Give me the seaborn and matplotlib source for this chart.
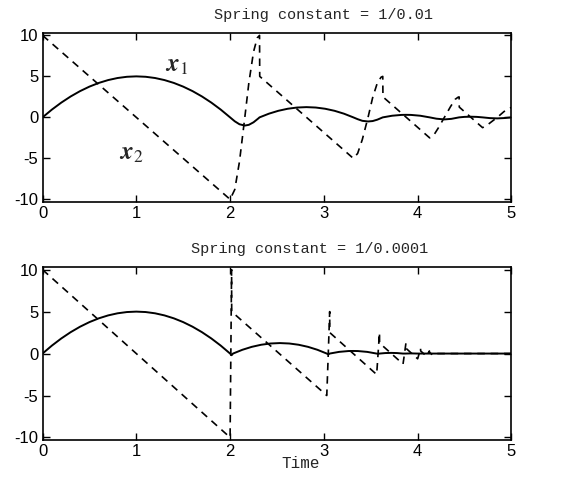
import matplotlib
matplotlib.use("Agg")
import matplotlib.pyplot as plt
import seaborn as sns
import pandas as pd

# ---------------- data ----------------
# Top panel: spring constant = 1/0.01
top_t_x1 = [0.0, 0.1, 0.2, 0.3, 0.4, 0.5, 0.6, 0.7, 0.8, 0.9, 1.0, 1.1, 1.2, 1.3, 1.4, 1.5,
            1.6, 1.7, 1.8, 1.9, 2.0,
            2.05, 2.1, 2.157, 2.2, 2.25, 2.3, 2.314,
            2.414, 2.514, 2.614, 2.714, 2.814, 2.914, 3.014, 3.114, 3.214, 3.314,
            3.36, 3.41, 3.471, 3.52, 3.57, 3.628,
            3.728, 3.828, 3.878, 3.928, 4.028, 4.128,
            4.2, 4.285, 4.36, 4.442,
            4.5, 4.567, 4.63, 4.692,
            4.77, 4.849, 4.93, 5.0]
top_x1 = [0, 0.95, 1.8, 2.55, 3.2, 3.75, 4.2, 4.55, 4.8, 4.95, 5, 4.95, 4.8, 4.55, 4.2, 3.75,
          3.2, 2.55, 1.8, 0.95, 0,
          -0.48, -0.84, -1.0, -0.91, -0.6, -0.14, 0,
          0.45, 0.8, 1.05, 1.2, 1.25, 1.2, 1.05, 0.8, 0.45, 0,
          -0.22, -0.42, -0.5, -0.45, -0.28, 0,
          0.2, 0.3, 0.31, 0.3, 0.2, 0,
          -0.16, -0.25, -0.18, 0,
          0.06, 0.08, 0.06, 0,
          -0.09, -0.125, -0.08, 0]

top_t_x2 = [0, 2.0, 2.05, 2.1, 2.157, 2.2, 2.25, 2.29, 2.314, 2.316,
            3.314, 3.36, 3.41, 3.471, 3.52, 3.57, 3.61, 3.628, 3.63,
            4.128, 4.17, 4.22, 4.285, 4.35, 4.40, 4.43, 4.442, 4.444,
            4.692, 4.73, 4.78, 4.849, 4.92, 4.97, 5.0]
top_x2 = [10, -10, -8.8, -5.4, 0, 4.2, 8.0, 9.7, 10, 5,
          -5, -4.4, -2.7, 0, 2.4, 4.2, 4.9, 5, 2.5,
          -2.5, -2.2, -1.3, 0, 1.3, 2.2, 2.45, 2.5, 1.25,
          -1.25, -1.05, -0.6, 0, 0.7, 1.1, 1.2]

# Bottom panel: spring constant = 1/0.0001
bot_t_x1 = [0.0, 0.1, 0.2, 0.3, 0.4, 0.5, 0.6, 0.7, 0.8, 0.9, 1.0, 1.1, 1.2, 1.3, 1.4, 1.5,
            1.6, 1.7, 1.8, 1.9, 2.0,
            2.016, 2.031,
            2.131, 2.231, 2.331, 2.431, 2.531, 2.631, 2.731, 2.831, 2.931, 3.031,
            3.047, 3.062,
            3.162, 3.262, 3.312, 3.362, 3.462, 3.562,
            3.578, 3.593,
            3.655, 3.718, 3.78, 3.843,
            3.87, 3.93, 4.0, 4.5, 5.0]
bot_x1 = [0, 0.95, 1.8, 2.55, 3.2, 3.75, 4.2, 4.55, 4.8, 4.95, 5, 4.95, 4.8, 4.55, 4.2, 3.75,
          3.2, 2.55, 1.8, 0.95, 0,
          -0.2, 0,
          0.45, 0.8, 1.05, 1.2, 1.25, 1.2, 1.05, 0.8, 0.45, 0,
          -0.1, 0,
          0.2, 0.3, 0.31, 0.3, 0.2, 0,
          -0.03, 0,
          0.06, 0.08, 0.06, 0,
          0, 0.02, 0, 0, 0]

bot_t_x2 = [0, 2.0, 2.008, 2.016, 2.017,
            3.031, 3.047, 3.062, 3.063,
            3.563, 3.578, 3.593, 3.594,
            3.844, 3.86, 3.875, 3.876,
            4.0, 4.016, 4.031, 4.032,
            4.094, 4.11, 4.125, 4.126,
            4.157, 4.172, 4.19, 4.6, 5.0]
bot_x2 = [10, -10, 0, 10, 5,
          -5, 0, 5, 2.5,
          -2.5, 0, 2.5, 1.25,
          -1.25, 0, 1.25, 0.625,
          -0.625, 0, 0.625, 0.31,
          -0.31, 0, 0.31, 0.16,
          -0.16, 0, 0, 0, 0]

titles = ["Spring constant = 1/0.01", "Spring constant = 1/0.0001"]
xticks = [0, 1, 2, 3, 4, 5]
yticks = [-10, -5, 0, 5, 10]
xlabel = "Time"
label_x1 = r"$\boldsymbol{x}_{1}$"
label_x2 = r"$\boldsymbol{x}_{2}$"

# ---------------- styling ----------------
sns.set_theme(style="ticks")
plt.rcParams["font.family"] = ["Liberation Sans", "DejaVu Sans"]
plt.rcParams["xtick.direction"] = "in"
plt.rcParams["ytick.direction"] = "in"

fig = plt.figure(figsize=(5.67, 4.84), dpi=100)
ax_top = fig.add_axes([0.075, 0.583, 0.827, 0.349])
ax_bot = fig.add_axes([0.075, 0.091, 0.827, 0.357])

panels = [
    (ax_top, top_t_x1, top_x1, top_t_x2, top_x2, titles[0], 0.60),
    (ax_bot, bot_t_x1, bot_x1, bot_t_x2, bot_x2, titles[1], 0.57),
]

for ax, t1, y1, t2, y2, title, tx in panels:
    d1 = pd.DataFrame({"t": t1, "v": y1})
    d2 = pd.DataFrame({"t": t2, "v": y2})
    sns.lineplot(data=d1, x="t", y="v", ax=ax, color="black", lw=1.4,
                 estimator=None, sort=False)
    sns.lineplot(data=d2, x="t", y="v", ax=ax, color="black", lw=1.2,
                 estimator=None, sort=False, linestyle=(0, (4.5, 3.5)))
    ax.set_xlim(0, 5)
    ax.set_ylim(-10.3, 10.3)
    ax.set_xticks(xticks)
    ax.set_yticks(yticks)
    ax.set_xticklabels([str(v) for v in xticks], fontsize=12)
    ax.set_yticklabels([str(v) for v in yticks], fontsize=12)
    ax.tick_params(axis="both", which="both", direction="in", length=5, width=1,
                   top=True, right=True, pad=3, colors="black")
    for s in ax.spines.values():
        s.set_visible(True)
        s.set_linewidth(1.2)
        s.set_color("black")
    ax.set_xlabel("")
    ax.set_ylabel("")
    ax.text(tx, 1.065, title, transform=ax.transAxes, ha="center", va="bottom",
            family=["Liberation Mono", "DejaVu Sans Mono"], fontsize=11)

ax_top.text(1.43, 6.4, label_x1, fontsize=18, math_fontfamily="stix",
            ha="center", va="center")
ax_top.text(0.94, -4.4, label_x2, fontsize=18, math_fontfamily="stix",
            ha="center", va="center")

ax_bot.text(0.55, -0.09, xlabel, transform=ax_bot.transAxes, ha="center", va="top",
            family=["Liberation Mono", "DejaVu Sans Mono"], fontsize=11.5)

fig.savefig("out.png", dpi=100, facecolor="white")
